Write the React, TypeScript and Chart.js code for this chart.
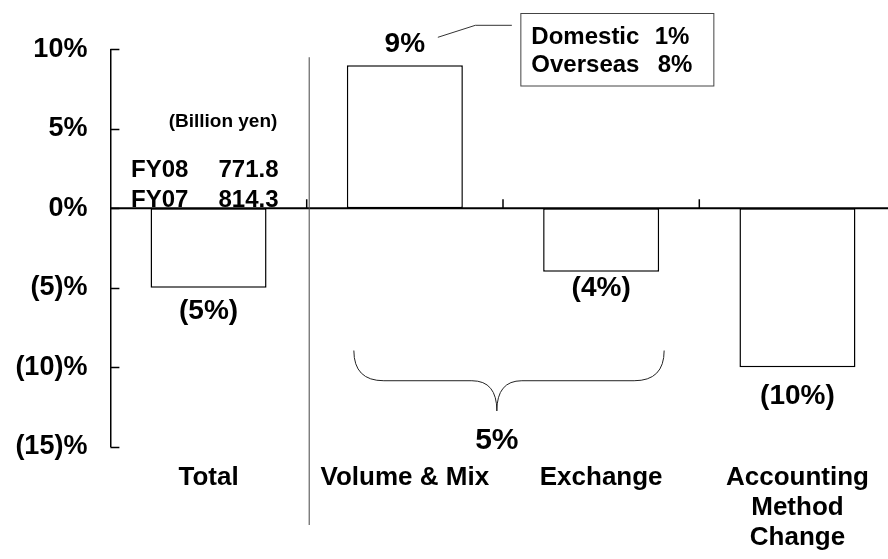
import React, { useEffect, useRef } from 'react';
import { Chart, registerables } from 'chart.js';

Chart.register(...registerables);

// ---- data ----
const categories: (string | string[])[] = ['Total', 'Volume & Mix', 'Exchange', ['Accounting', 'Method', 'Change']];
const changePct = [-5, 9, -4, -10];
const barLabels = ['(5%)', '9%', '(4%)', '(10%)'];
const yMin = -15;
const yMax = 10;
const yStep = 5;
const fyYears = ['FY08', 'FY07'];
const fySales = ['771.8', '814.3'];
const salesUnit = '(Billion yen)';
const breakdownNames = ['Domestic', 'Overseas'];
const breakdownPct = ['1%', '8%'];
const combinedLabel = '5%';

// ---- styling ----
const FONT = '"Liberation Sans", Arial, Helvetica, sans-serif';
const LABEL_GAP = [24, 21, 16, 29];

const fmtPct = (v: number) => (v < 0 ? `(${-v})%` : `${v}%`);

const overlay = {
  id: 'overlay',
  afterDatasetsDraw(chart: any) {
    const { ctx, chartArea, scales } = chart;
    const x = scales.x;
    const y = scales.y;
    const meta = chart.getDatasetMeta(0);
    const y0 = y.getPixelForValue(0);
    ctx.save();

    // zero line
    ctx.strokeStyle = '#000';
    ctx.lineWidth = 2;
    ctx.beginPath();
    ctx.moveTo(chartArea.left, y0);
    ctx.lineTo(chartArea.right, y0);
    ctx.stroke();

    // category boundary ticks (upward)
    ctx.lineWidth = 1.5;
    for (let i = 0; i < categories.length - 1; i++) {
      const bx = (x.getPixelForValue(i) + x.getPixelForValue(i + 1)) / 2;
      ctx.beginPath();
      ctx.moveTo(bx, y0);
      ctx.lineTo(bx, y0 - 9);
      ctx.stroke();
    }

    // y ticks pointing inward
    for (let v = yMin; v <= yMax; v += yStep) {
      const py = Math.round(y.getPixelForValue(v)) + 0.5;
      ctx.beginPath();
      ctx.moveTo(chartArea.left, py);
      ctx.lineTo(chartArea.left + 9, py);
      ctx.stroke();
    }

    // separator line
    const sepX = (x.getPixelForValue(0) + x.getPixelForValue(1)) / 2 + 2.5;
    ctx.strokeStyle = '#444';
    ctx.lineWidth = 1;
    ctx.beginPath();
    ctx.moveTo(sepX, y.getPixelForValue(9.5));
    ctx.lineTo(sepX, 525);
    ctx.stroke();

    // bar value labels
    ctx.fillStyle = '#000';
    ctx.textAlign = 'center';
    ctx.textBaseline = 'middle';
    ctx.font = `bold 28px ${FONT}`;
    meta.data.forEach((bar: any, i: number) => {
      const v = changePct[i];
      const ly = v >= 0 ? bar.y - LABEL_GAP[i] : bar.y + LABEL_GAP[i];
      ctx.fillText(barLabels[i], bar.x, ly);
    });

    // callout from 9% to breakdown box
    const c1 = x.getPixelForValue(1);
    ctx.strokeStyle = '#333';
    ctx.lineWidth = 1;
    ctx.beginPath();
    ctx.moveTo(c1 + 33, 37.3);
    ctx.lineTo(c1 + 70.5, 25.3);
    ctx.lineTo(c1 + 107, 25.3);
    ctx.stroke();

    // breakdown box
    const bx0 = c1 + 115.5;
    ctx.strokeStyle = '#444';
    ctx.strokeRect(bx0 + 0.5, 13.5, 193, 72.5);
    ctx.font = `bold 24px ${FONT}`;
    ctx.textBaseline = 'alphabetic';
    const rowBase = [43.5, 71.5];
    const pctRight = [bx0 + 169, bx0 + 172];
    breakdownNames.forEach((n, i) => {
      ctx.textAlign = 'left';
      ctx.fillText(n, bx0 + 11, rowBase[i]);
      ctx.textAlign = 'right';
      ctx.fillText(breakdownPct[i], pctRight[i], rowBase[i]);
    });

    // FY sales text
    ctx.font = `bold 19px ${FONT}`;
    ctx.textAlign = 'center';
    ctx.fillText(salesUnit, 223, 126.5);
    ctx.font = `bold 24px ${FONT}`;
    const fyBase = [176.5, 206.5];
    fyYears.forEach((fy, i) => {
      ctx.textAlign = 'left';
      ctx.fillText(fy, 131, fyBase[i]);
      ctx.textAlign = 'right';
      ctx.fillText(fySales[i], 278.5, fyBase[i]);
    });

    // brace under Volume & Mix + Exchange
    const c2 = x.getPixelForValue(2);
    const L = c1 - 51;
    const R = c2 + 63;
    const T = c1 + 92;
    const yt = y.getPixelForValue(-8.95);
    const ym = y.getPixelForValue(-10.85);
    const yb = y.getPixelForValue(-12.75);
    ctx.strokeStyle = '#222';
    ctx.lineWidth = 1;
    ctx.beginPath();
    ctx.moveTo(L, yt);
    ctx.quadraticCurveTo(L, ym, L + 30, ym);
    ctx.lineTo(T - 25, ym);
    ctx.quadraticCurveTo(T, ym, T, yb);
    ctx.quadraticCurveTo(T, ym, T + 25, ym);
    ctx.lineTo(R - 30, ym);
    ctx.quadraticCurveTo(R, ym, R, yt);
    ctx.stroke();

    ctx.font = `bold 30px ${FONT}`;
    ctx.textAlign = 'center';
    ctx.textBaseline = 'middle';
    ctx.fillText(combinedLabel, T, y.getPixelForValue(-14.6));

    ctx.restore();
  },
};

export default function App() {
  const ref = useRef<HTMLCanvasElement | null>(null);
  useEffect(() => {
    if (!ref.current) return;
    const chart = new Chart(ref.current, {
      type: 'bar',
      data: {
        labels: categories as any,
        datasets: [
          {
            data: changePct,
            backgroundColor: '#ffffff',
            borderColor: '#000000',
            borderWidth: 1.5,
            borderSkipped: false,
            barPercentage: 0.591,
            categoryPercentage: 1,
          },
        ],
      },
      options: {
        responsive: false,
        animation: false,
        layout: { padding: { top: 49.3, right: 4.4, bottom: 0, left: 0 } },
        plugins: { legend: { display: false }, tooltip: { enabled: false } },
        scales: {
          x: {
            grid: { display: false, drawTicks: false },
            border: { display: false },
            ticks: {
              color: '#000',
              font: { family: FONT, size: 26, weight: 'bold', lineHeight: 1.15 },
              padding: 16,
              maxRotation: 0,
              autoSkip: false,
            },
            afterFit: (s: any) => {
              s.height = 112.3;
            },
          },
          y: {
            min: yMin,
            max: yMax,
            grid: { display: false, drawTicks: false },
            border: { display: true, color: '#000', width: 1.5 },
            ticks: {
              stepSize: yStep,
              color: '#000',
              font: { family: FONT, size: 27, weight: 'bold' },
              padding: 23,
              callback: (v: any) => fmtPct(Number(v)),
            },
            afterFit: (s: any) => {
              s.width = 110.4;
            },
          },
        },
      },
      plugins: [overlay],
    });
    return () => chart.destroy();
  }, []);

  return (
    <div
      style={{
        position: 'absolute',
        left: 0,
        top: 0,
        width: 888,
        height: 559,
        overflow: 'hidden',
        background: '#fff',
      }}
    >
      <canvas ref={ref} width={900} height={559} />
    </div>
  );
}
